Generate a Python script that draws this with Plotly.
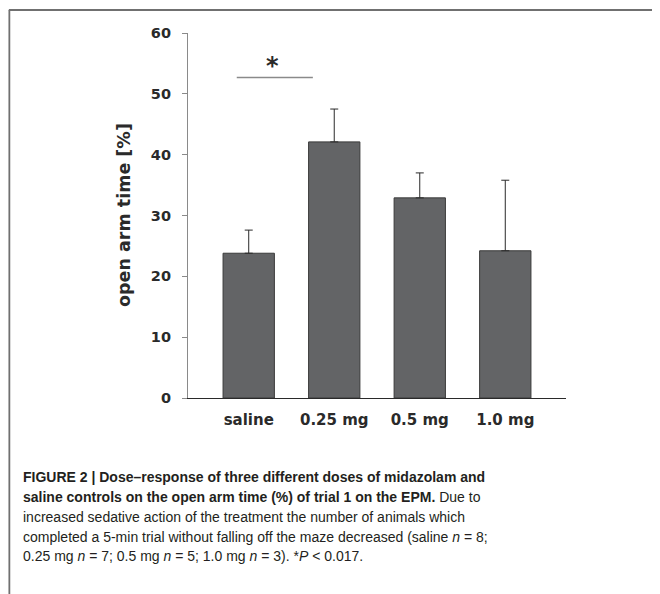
import plotly.graph_objects as go

categories = ["saline", "0.25 mg", "0.5 mg", "1.0 mg"]
open_arm_time = [23.8, 42.1, 32.9, 24.2]
sem_upper = [3.8, 5.4, 4.1, 11.6]
y_ticks = [0, 10, 20, 30, 40, 50, 60]
sig_line_x = [-0.14, 0.75]
sig_line_y = 52.7
sig_star_x = 0.28
sig_star_y = 54.6

caption_lines = [
    "<b>FIGURE 2 | Dose–response of three different doses of midazolam and</b>",
    "<b>saline controls on the open arm time (%) of trial 1 on the EPM.</b> Due to",
    "increased sedative action of the treatment the number of animals which",
    "completed a 5-min trial without falling off the maze decreased (saline <i>n</i> = 8;",
    "0.25 mg <i>n</i> = 7; 0.5 mg <i>n</i> = 5; 1.0 mg <i>n</i> = 3). *<i>P</i> &lt; 0.017.",
]

W, H = 660, 594
OFF = 8  # page body margin
L, R, T, B = 188 - OFF, 565.7 - OFF, 33 - OFF, 398 - OFF
PW, PH = R - L, B - T

def px(x):
    return (x - OFF - L) / PW

def py(y):
    return (B - (y - OFF)) / PH

fig = go.Figure()
fig.add_trace(go.Bar(
    x=list(range(len(categories))),
    y=open_arm_time,
    width=0.6,
    marker=dict(color="#636466", line=dict(color="#3a3a3a", width=1)),
    error_y=dict(type="data", symmetric=False, array=sem_upper,
                 arrayminus=[0] * len(sem_upper), color="#2a2a2a",
                 thickness=1, width=4),
    showlegend=False,
))

fig.add_shape(type="line", xref="x", yref="y",
              x0=sig_line_x[0], x1=sig_line_x[1], y0=sig_line_y, y1=sig_line_y,
              line=dict(color="#8a8a8a", width=1.5))
fig.add_annotation(x=sig_star_x, y=sig_star_y, xref="x", yref="y", text="<b>*</b>",
                   showarrow=False, font=dict(family="DejaVu Sans", size=24, color="#2a2a2a"))

# frame lines
fig.add_shape(type="line", xref="paper", yref="paper",
              x0=px(9), x1=px(668), y0=py(10), y1=py(10),
              line=dict(color="#707070", width=1.8))
fig.add_shape(type="line", xref="paper", yref="paper",
              x0=px(9.5), x1=px(9.5), y0=py(10), y1=py(602),
              line=dict(color="#707070", width=1.8))

# y-axis title
fig.add_annotation(x=px(124), y=py(215), xref="paper", yref="paper",
                   xanchor="center", yanchor="middle",
                   text="<b>open arm time [%]</b>", textangle=-90, showarrow=False,
                   font=dict(family="DejaVu Sans", size=17.5, color="#2a2a2a"))

line_y = [476.7, 496.7, 517, 536.5, 556]
for txt, yy in zip(caption_lines, line_y):
    fig.add_annotation(x=px(21), y=py(yy), xref="paper", yref="paper",
                       text=txt, showarrow=False, xanchor="left", yanchor="middle",
                       align="left",
                       font=dict(family="Liberation Sans, Arial, sans-serif",
                                 size=14, color="#231f20"))

fig.update_layout(
    width=W, height=H,
    margin=dict(l=L, r=W - R, t=T, b=H - B, autoexpand=False),
    plot_bgcolor="white", paper_bgcolor="white",
    xaxis=dict(range=[-0.71, 3.71], tickmode="array",
               tickvals=list(range(len(categories))), ticktext=categories,
               showline=True, linecolor="#2a2a2a", linewidth=1.2, ticks="",
               showgrid=False, zeroline=False, ticklabelstandoff=8,
               tickfont=dict(family="DejaVu Sans", size=15, color="#2a2a2a", weight="bold")),
    yaxis=dict(range=[0, 60], tickmode="array", tickvals=y_ticks,
               showline=True, linecolor="#8a8a8a", linewidth=1.2,
               ticks="outside", ticklen=5, tickcolor="#8a8a8a", tickwidth=1,
               showgrid=False, zeroline=False, ticklabelstandoff=8,
               tickfont=dict(family="DejaVu Sans", size=14.5, color="#2a2a2a", weight="bold")),
)

fig.write_html("out.html")
